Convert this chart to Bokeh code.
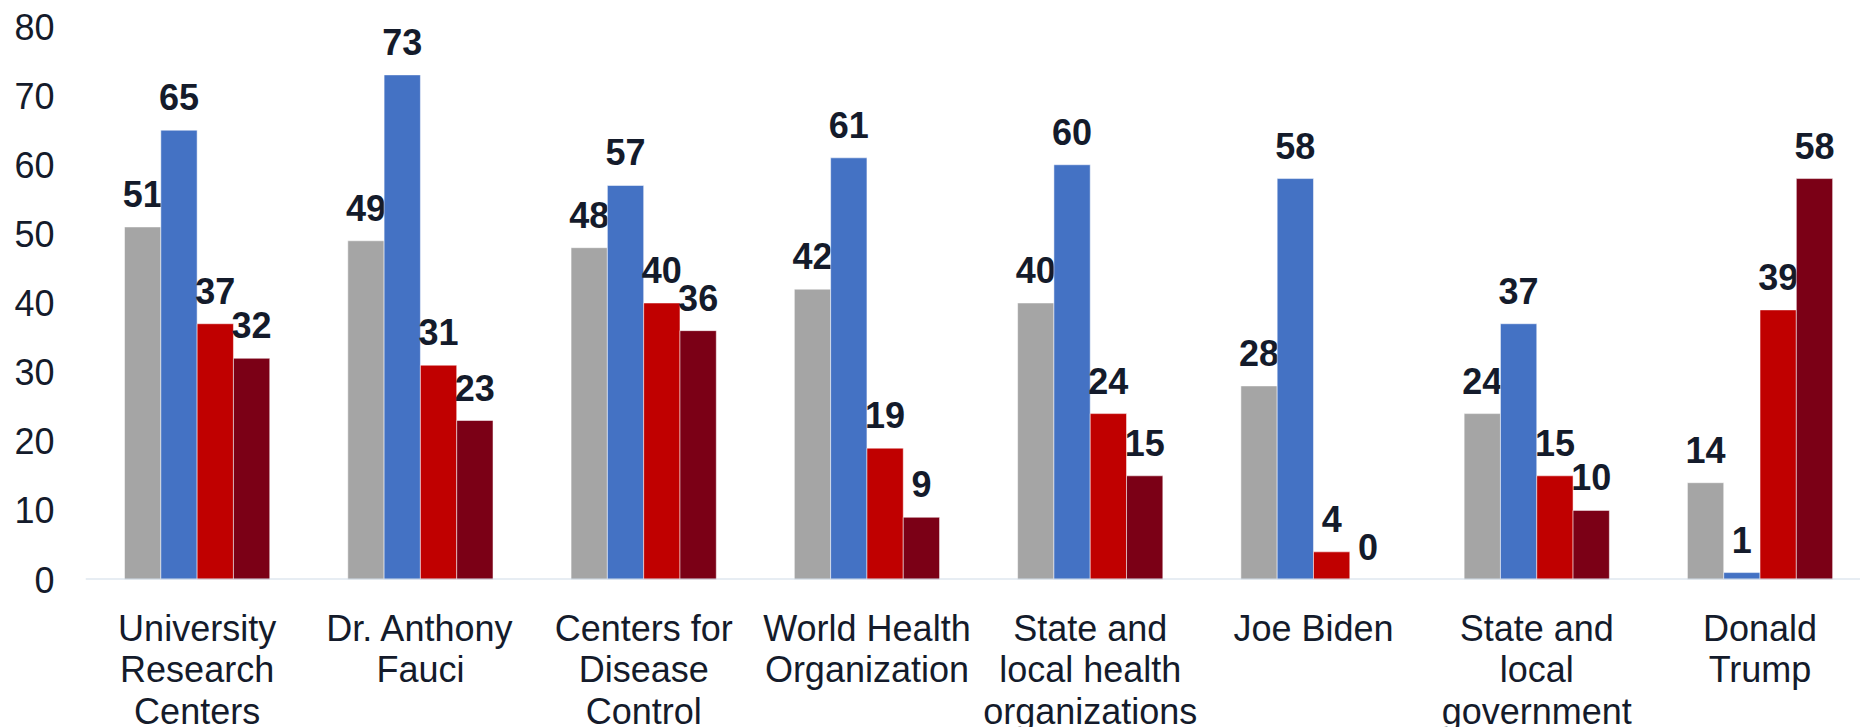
from bokeh.plotting import figure
from bokeh.layouts import column
from bokeh.models import Range1d, FixedTicker, ColumnDataSource, Span
from bokeh.core.properties import value
from bokeh.embed import file_html
from bokeh.resources import INLINE

categories = ["University\nResearch\nCenters", "Dr. Anthony\nFauci", "Centers for\nDisease\nControl",
              "World Health\nOrganization", "State and\nlocal health\norganizations", "Joe Biden",
              "State and\nlocal\ngovernment", "Donald\nTrump"]
series_gray = [51, 49, 48, 42, 40, 28, 24, 14]
series_blue = [65, 73, 57, 61, 60, 58, 37, 1]
series_red = [37, 31, 40, 19, 24, 4, 15, 39]
series_darkred = [32, 23, 36, 9, 15, 0, 10, 58]
y_ticks = [0, 10, 20, 30, 40, 50, 60, 70, 80]

colors = ["#a5a5a5", "#4472c4", "#c00000", "#7b0016"]
all_series = [series_gray, series_blue, series_red, series_darkred]

FONT = "Liberation Sans"
TEXT_COLOR = "#141b2b"

x_range = Range1d(0, 7.95)

p = figure(width=1860, height=601, output_backend="svg", toolbar_location=None,
           x_range=x_range, y_range=Range1d(0, 80), x_axis_location=None,
           min_border_left=85, min_border_right=0, min_border_top=26, min_border_bottom=22)
p.outline_line_color = None
p.grid.visible = False
p.background_fill_color = "white"
p.border_fill_color = "white"

centers = [i + 0.5 for i in range(len(categories))]
w = 0.1626
offsets = [-1.5 * w, -0.5 * w, 0.5 * w, 1.5 * w]

for vals, col, off in zip(all_series, colors, offsets):
    xs = [c + off for c in centers]
    src = ColumnDataSource(dict(x=xs, top=vals, lab=[str(v) for v in vals]))
    p.vbar(x="x", top="top", bottom=0, width=w, source=src, fill_color=col,
           line_color="white", line_alpha=0.5, line_width=1)
    p.text(x="x", y="top", text="lab", source=src, text_align="center",
           text_baseline="alphabetic", y_offset=-33,
           text_font=value(FONT), text_font_style="bold", text_font_size="36px",
           text_color=TEXT_COLOR)

p.add_layout(Span(location=0, dimension="width", line_color="#d0dbe8", line_width=2))

# y axis
ya = p.yaxis[0]
ya.ticker = FixedTicker(ticks=y_ticks)
ya.axis_line_color = None
ya.major_tick_line_color = None
ya.minor_tick_line_color = None
ya.major_tick_out = 0
ya.major_label_standoff = 31
ya.major_label_text_font = FONT
ya.major_label_text_font_size = "36px"
ya.major_label_text_color = TEXT_COLOR

# category labels panel, sharing the x range
p2 = figure(width=1860, height=126, output_backend="svg", toolbar_location=None,
            x_range=x_range, y_range=Range1d(0, 1), x_axis_location=None, y_axis_location=None,
            min_border_left=85, min_border_right=0, min_border_top=0, min_border_bottom=0)
p2.outline_line_color = None
p2.grid.visible = False
p2.border_fill_color = "white"
lab_src = ColumnDataSource(dict(x=centers, y=[1] * len(centers), text=categories))
p2.text(x="x", y="y", text="text", source=lab_src, text_align="center", text_baseline="top",
        y_offset=6, text_font=value(FONT), text_font_size="36px", text_color=TEXT_COLOR,
        text_line_height=1.02)

layout = column(p, p2, spacing=0)
open("out.html", "w").write(file_html(layout, INLINE))
